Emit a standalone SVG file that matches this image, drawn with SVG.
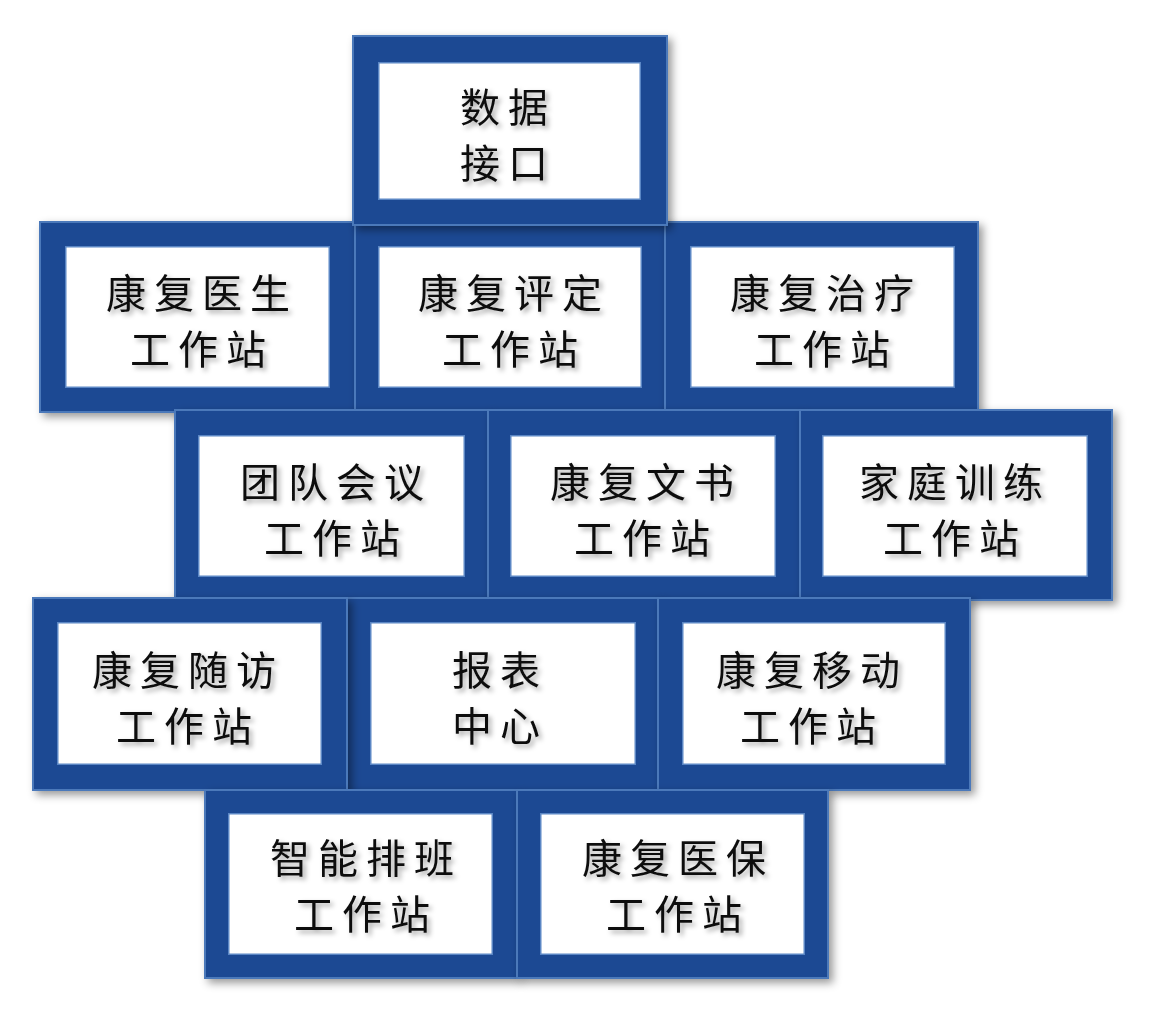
<svg xmlns="http://www.w3.org/2000/svg" width="1159" height="1032" viewBox="0 0 1159 1032">
<defs>
<filter id="sh" x="-10%" y="-10%" width="125%" height="125%"><feDropShadow dx="4" dy="4" stdDeviation="4" flood-color="#000" flood-opacity="0.4"/></filter>
<filter id="ts" x="-20%" y="-20%" width="150%" height="150%"><feDropShadow dx="3" dy="3" stdDeviation="2.5" flood-color="#000" flood-opacity="0.35"/></filter>
<filter id="in" x="0" y="0" width="100%" height="100%"><feFlood flood-color="#000" flood-opacity="0.45"/><feComposite in2="SourceAlpha" operator="out"/><feGaussianBlur stdDeviation="5"/><feOffset dx="3" dy="3"/><feComposite in2="SourceAlpha" operator="in"/><feMerge><feMergeNode in="SourceGraphic"/><feMergeNode/></feMerge></filter>
</defs>
<style>
.o{fill:#1B4A93;stroke:#4B79BA;stroke-width:2}
.i{fill:#fff;stroke:#5A86C4;stroke-width:3}
.t{font-family:"Noto Sans CJK SC",sans-serif;font-size:40px;letter-spacing:8px;fill:#111;text-anchor:middle}
</style>
<rect width="1159" height="1032" fill="#fff"/>
<g id="n2" filter="url(#sh)"><rect class="o" x="40" y="222" width="315" height="190"/><rect class="i" x="65" y="246" width="265" height="142" filter="url(#in)"/><text class="t" filter="url(#ts)"><tspan x="202" y="308">康复医生</tspan><tspan x="202" y="364">工作站</tspan></text></g>
<g id="n3" filter="url(#sh)"><rect class="o" x="355" y="222" width="312" height="190"/><rect class="i" x="378" y="246" width="264" height="142" filter="url(#in)"/><text class="t" filter="url(#ts)"><tspan x="514" y="308">康复评定</tspan><tspan x="514" y="364">工作站</tspan></text></g>
<g id="n4" filter="url(#sh)"><rect class="o" x="665" y="222" width="313" height="190"/><rect class="i" x="690" y="246" width="265" height="142" filter="url(#in)"/><text class="t" filter="url(#ts)"><tspan x="826" y="308">康复治疗</tspan><tspan x="826" y="364">工作站</tspan></text></g>
<g id="n1" filter="url(#sh)"><rect class="o" x="353" y="36" width="314" height="189"/><rect class="i" x="378" y="62" width="263" height="138" filter="url(#in)"/><text class="t" filter="url(#ts)"><tspan x="508" y="122">数据</tspan><tspan x="508" y="178">接口</tspan></text></g>
<g id="n5" filter="url(#sh)"><rect class="o" x="175" y="410" width="313" height="190"/><rect class="i" x="198" y="435" width="267" height="142" filter="url(#in)"/><text class="t" filter="url(#ts)"><tspan x="336" y="497">团队会议</tspan><tspan x="336" y="553">工作站</tspan></text></g>
<g id="n6" filter="url(#sh)"><rect class="o" x="488" y="410" width="312" height="190"/><rect class="i" x="510" y="435" width="266" height="142" filter="url(#in)"/><text class="t" filter="url(#ts)"><tspan x="646" y="497">康复文书</tspan><tspan x="646" y="553">工作站</tspan></text></g>
<g id="n7" filter="url(#sh)"><rect class="o" x="800" y="410" width="312" height="190"/><rect class="i" x="822" y="435" width="266" height="142" filter="url(#in)"/><text class="t" filter="url(#ts)"><tspan x="955" y="497">家庭训练</tspan><tspan x="955" y="553">工作站</tspan></text></g>
<g id="n9" filter="url(#sh)"><rect class="o" x="347" y="598" width="313" height="192"/><rect class="i" x="370" y="622" width="266" height="143" filter="url(#in)"/><text class="t" filter="url(#ts)"><tspan x="500" y="685">报表</tspan><tspan x="500" y="741">中心</tspan></text></g>
<g id="n10" filter="url(#sh)"><rect class="o" x="658" y="598" width="312" height="192"/><rect class="i" x="682" y="622" width="264" height="143" filter="url(#in)"/><text class="t" filter="url(#ts)"><tspan x="812" y="685">康复移动</tspan><tspan x="812" y="741">工作站</tspan></text></g>
<g id="n8" filter="url(#sh)"><rect class="o" x="33" y="598" width="314" height="192"/><rect class="i" x="57" y="622" width="265" height="143" filter="url(#in)"/><text class="t" filter="url(#ts)"><tspan x="188" y="685">康复随访</tspan><tspan x="188" y="741">工作站</tspan></text></g>
<g id="n11" filter="url(#sh)"><rect class="o" x="205" y="790" width="312" height="188"/><rect class="i" x="228" y="813" width="265" height="142" filter="url(#in)"/><text class="t" filter="url(#ts)"><tspan x="366" y="873">智能排班</tspan><tspan x="366" y="929">工作站</tspan></text></g>
<g id="n12" filter="url(#sh)"><rect class="o" x="517" y="790" width="311" height="188"/><rect class="i" x="540" y="813" width="265" height="142" filter="url(#in)"/><text class="t" filter="url(#ts)"><tspan x="678" y="873">康复医保</tspan><tspan x="678" y="929">工作站</tspan></text></g>
<g id="connectors"/>
</svg>
